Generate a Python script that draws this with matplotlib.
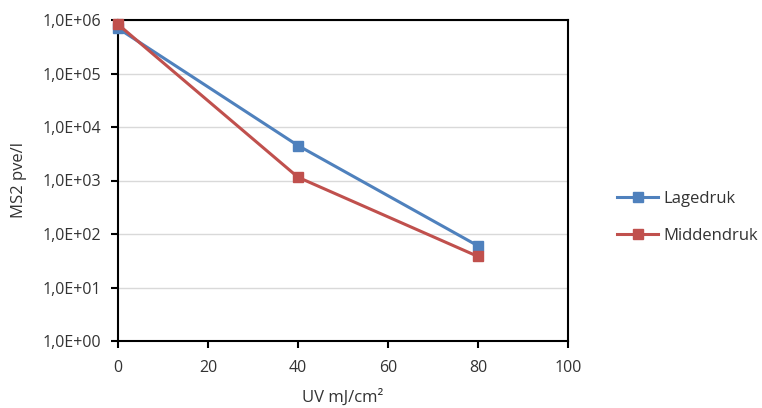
import numpy as np
import matplotlib
matplotlib.use('Agg')
import matplotlib.pyplot as plt
from matplotlib.ticker import FuncFormatter, FixedLocator

# data
uv_dose = [0, 40, 80]
lagedruk = [7.0e5, 4.5e3, 60]
middendruk = [8.3e5, 1.15e3, 38]
series_names = ['Lagedruk', 'Middendruk']
series_colors = ['#4F81BD', '#C0504D']
x_ticks = [0, 20, 40, 60, 80, 100]
y_ticks = [1e0, 1e1, 1e2, 1e3, 1e4, 1e5, 1e6]

plt.rcParams['font.family'] = ['Open Sans', 'DejaVu Sans']
txt = '#333333'

fig = plt.figure(figsize=(7.62, 4.08), dpi=100)
ax = fig.add_axes([118 / 762, 1 - 341 / 408, 450 / 762, 321 / 408])

for vals, name, col in zip([lagedruk, middendruk], series_names, series_colors):
    ax.plot(uv_dose, vals, color=col, lw=2.2, marker='s', ms=7.5,
            label=name, clip_on=False, zorder=3)

ax.set_yscale('log')
ax.set_ylim(1e0, 1e6)
ax.set_xlim(0, 100)
ax.yaxis.set_major_locator(FixedLocator(y_ticks))
ax.yaxis.set_minor_locator(FixedLocator([]))
ax.yaxis.set_major_formatter(FuncFormatter(
    lambda v, p: '1,0E+{:02d}'.format(int(round(np.log10(v))))))
ax.set_xticks(x_ticks)

ax.grid(axis='y', color='#D9D9D9', lw=1)
ax.set_axisbelow(True)
for s in ax.spines.values():
    s.set_color('black')
    s.set_linewidth(1.5)
ax.tick_params(direction='out', length=5, width=1.5, colors='black',
               labelcolor=txt, labelsize=11.5)
ax.tick_params(axis='y', pad=7)
ax.tick_params(axis='x', pad=9)

ax.set_xlabel('UV mJ/cm²', color=txt, fontsize=12, labelpad=9)
ax.set_ylabel('MS2 pve/l', color=txt, fontsize=12, labelpad=11)

ax.legend(loc='center left', bbox_to_anchor=(1.075, 0.385), frameon=False,
          fontsize=12, labelcolor=txt, handlelength=2.5,
          labelspacing=1.25, handletextpad=0.3)

fig.savefig('out.png', dpi=100)
